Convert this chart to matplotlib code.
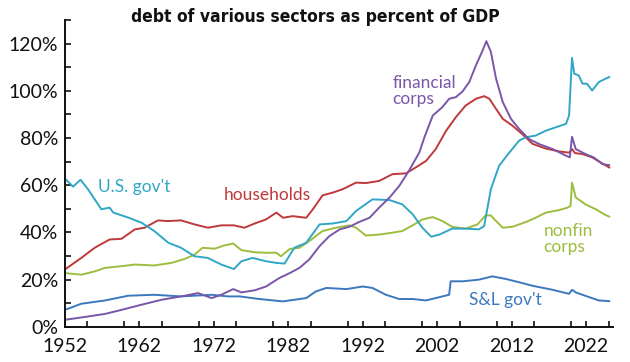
import matplotlib
matplotlib.use("Agg")
import matplotlib.pyplot as plt
from matplotlib.ticker import MultipleLocator, FixedLocator, FuncFormatter

# ---- data ----
usgov_years = [1952, 1953.1, 1954.1, 1955.1, 1956.9, 1958, 1958.5, 1960.5, 1962.3, 1964, 1965.9, 1967.6,
               1969.4, 1971.2, 1973, 1974.7, 1975.7, 1977.2, 1979, 1980.4, 1981.5, 1982.8, 1984.4, 1986.2,
               1988, 1989.8, 1991.1, 1993.3, 1995.6, 1997.3, 1998.7, 2000, 2001.2, 2002.3, 2004, 2005.8,
               2007.6, 2008.3, 2009.2, 2010.3, 2011.7, 2013, 2013.9, 2015.2, 2016.6, 2017.9, 2019.3,
               2019.7, 2020.1, 2020.4, 2021, 2021.5, 2022.1, 2022.8, 2023.7, 2024.6, 2025.1]
usgov = [62.8, 59.4, 62.3, 58.3, 49.8, 50.5, 48.4, 46.3, 44.1, 40.6, 35.6, 33.5,
         29.9, 29.2, 26.4, 24.5, 27.8, 29.2, 27.8, 27.1, 26.8, 33.5, 35.6, 43.4,
         43.8, 44.8, 49.1, 54.0, 53.7, 51.9, 47.7, 42.0, 38.2, 39.1, 41.6, 41.6,
         41.3, 42.7, 58.3, 68.2, 73.9, 78.9, 80.3, 81.0, 83.1, 84.5, 86.0,
         89.5, 113.9, 107.2, 106.5, 103.0, 103.0, 100.1, 103.7, 105.1, 105.8]

hh_years = [1952, 1954.2, 1956, 1958, 1959.6, 1961.4, 1962.7, 1964.5, 1965.8, 1967.6, 1969.4, 1971.2,
            1973, 1974.7, 1976.1, 1977.5, 1979, 1980.4, 1981.3, 1982.6, 1984.4, 1985.3, 1986.6, 1988,
            1989.3, 1991.1, 1992.4, 1994.2, 1996, 1997.8, 1999.1, 2000.5, 2001.8, 2003.2, 2004.5,
            2005.8, 2007.2, 2008.3, 2009, 2009.9, 2010.8, 2012.1, 2013.4, 2014.8, 2016.6, 2018.4,
            2019.7, 2020.1, 2020.5, 2021.5, 2022.8, 2023.9, 2025.1]
hh = [24.3, 29.2, 33.5, 37.0, 37.3, 41.3, 42.0, 45.1, 44.8, 45.1, 43.4, 42.0,
      43.0, 43.0, 42.0, 43.8, 45.5, 48.4, 46.2, 46.9, 46.2, 49.8, 55.7, 56.9,
      58.3, 61.1, 60.9, 61.8, 64.7, 65.0, 67.5, 70.3, 75.3, 83.1, 88.8,
      93.7, 96.6, 97.7, 96.6, 92.3, 88.1, 85.2, 81.7, 77.5, 75.5, 74.3,
      73.8, 75.3, 73.6, 73.2, 71.8, 69.7, 67.5]

fin_years = [1952, 1955.1, 1957.4, 1959.6, 1962.3, 1965, 1967.6, 1969.9, 1971.7, 1973, 1974.6, 1975.7,
             1977.5, 1979, 1980.8, 1982.2, 1983.5, 1984.8, 1986.2, 1987.5, 1988.9, 1990.2, 1991.5,
             1992.9, 1994.2, 1995.6, 1996.9, 1998.2, 1999.6, 2000.3, 2001.4, 2002.7, 2003.6, 2004.5,
             2005.4, 2006.3, 2007.2, 2008.1, 2008.6, 2009.2, 2009.9, 2010.8, 2011.9, 2013, 2014.3,
             2015.7, 2017.5, 2019.3, 2019.8, 2020.1, 2020.6, 2021.9, 2023, 2024.2, 2025.1]
fin = [3.0, 4.4, 5.5, 7.2, 9.4, 11.5, 12.9, 14.3, 12.2, 13.6, 16.0, 14.6,
       15.5, 17.1, 20.7, 22.8, 25.0, 28.5, 34.2, 38.4, 41.3, 42.4, 44.4,
       46.2, 50.5, 54.8, 59.7, 66.1, 73.9, 80.5, 89.5, 93.1, 96.6, 97.3,
       99.7, 103.7, 110.8, 117.1, 121.0, 116.5, 105.1, 95.2, 88.1, 83.8, 79.6,
       77.4, 75.3, 72.5, 71.8, 80.5, 75.3, 73.2, 71.8, 68.9, 68.5]

nf_years = [1952, 1954.2, 1956, 1957.4, 1959.6, 1961.4, 1964, 1966.3, 1968.1, 1969.4, 1970.5, 1972.1,
            1973.4, 1974.6, 1975.7, 1977.5, 1979, 1980.4, 1981, 1982.2, 1983.5, 1984.8, 1986.6, 1988.4,
            1990.2, 1991.1, 1992.4, 1994.2, 1996, 1997.3, 1998.7, 2000, 2001.4, 2002.7, 2004, 2005.8,
            2007.4, 2008.5, 2009.2, 2009.9, 2010.8, 2012.1, 2013.9, 2015.2, 2016.6, 2018.4, 2019.5,
            2019.9, 2020.1, 2020.6, 2021.9, 2023.3, 2024.4, 2025.1]
nf = [22.8, 22.1, 23.5, 25.0, 25.7, 26.4, 26.0, 27.1, 28.8, 30.6, 33.5, 33.1,
      34.5, 35.3, 32.5, 31.6, 31.4, 31.4, 29.9, 33.0, 33.5, 36.3, 40.6, 42.0,
      43.0, 42.0, 38.7, 39.1, 39.9, 40.6, 43.0, 45.5, 46.5, 44.8, 42.4, 41.6,
      43.4, 47.2, 47.2, 44.8, 42.0, 42.4, 44.4, 46.2, 48.4, 49.5, 50.5,
      51.2, 61.1, 54.8, 51.9, 49.8, 47.7, 46.7]

sl_years = [1952, 1954.2, 1957.4, 1960.5, 1964, 1967.6, 1971.7, 1973.9, 1975.5, 1978.1, 1981.3, 1984.4,
            1985.7, 1987.1, 1989.8, 1992, 1993.3, 1995.1, 1996.9, 1998.7, 2000.5, 2002.3, 2003.6,
            2003.8, 2005.4, 2007.6, 2009.4, 2011.2, 2013, 2014.8, 2017.5, 2019.7, 2020.1, 2020.6,
            2022.4, 2023.7, 2025.1]
sl = [7.2, 9.8, 11.2, 13.2, 13.6, 12.9, 13.6, 12.9, 12.9, 11.8, 10.8, 12.2,
      15.0, 16.5, 16.0, 17.1, 16.5, 13.6, 11.8, 11.8, 11.2, 12.6, 13.6,
      19.3, 19.3, 20.0, 21.4, 20.3, 18.9, 17.4, 15.7, 14.0, 15.7, 14.6,
      12.6, 11.2, 10.9]

x_tick_labels = [1952, 1962, 1972, 1982, 1992, 2002, 2012, 2022]
y_tick_labels = [0, 20, 40, 60, 80, 100, 120]
title = "debt of various sectors as percent of GDP"

# ---- styling ----
C_US = "#30a7c6"
C_HH = "#c0393a"
C_FIN = "#7a56a8"
C_NF = "#9dbd3f"
C_SL = "#3b78bf"

FONT = ["Lato", "DejaVu Sans"]

fig = plt.figure(figsize=(6.3, 3.62), dpi=100)
ax = fig.add_axes([0.103, 0.097, 0.870, 0.848])

lw = 1.4
ax.plot(sl_years, sl, color=C_SL, lw=lw)
ax.plot(nf_years, nf, color=C_NF, lw=lw)
ax.plot(hh_years, hh, color=C_HH, lw=lw)
ax.plot(usgov_years, usgov, color=C_US, lw=lw)
ax.plot(fin_years, fin, color=C_FIN, lw=lw)

ax.set_xlim(1952, 2025.6)
ax.set_ylim(0, 130)

for s in ["top", "right"]:
    ax.spines[s].set_visible(False)
for s in ["left", "bottom"]:
    ax.spines[s].set_linewidth(1.4)
    ax.spines[s].set_color("#111111")

ax.xaxis.set_major_locator(FixedLocator(x_tick_labels))
ax.xaxis.set_minor_locator(MultipleLocator(5))
ax.yaxis.set_major_locator(FixedLocator(y_tick_labels))
ax.yaxis.set_minor_locator(MultipleLocator(10))
ax.yaxis.set_major_formatter(FuncFormatter(lambda v, p: f"{int(v)}%"))
ax.tick_params(which="both", direction="in", length=4, width=1.2, color="#111111")
ax.tick_params(axis="x", which="major", pad=8)
ax.tick_params(axis="y", which="major", pad=5)
for lab in ax.get_xticklabels() + ax.get_yticklabels():
    lab.set_fontfamily(FONT)
    lab.set_fontsize(14)
    lab.set_color("#111111")

fig.text(0.50, 0.953, title, ha="center", va="center", fontsize=12.5, fontweight="bold",
         fontstretch="condensed", family=["DejaVu Sans"], color="#111111")

lab_kw = dict(fontsize=12.5, family=FONT)
ax.text(1956.4, 59.1, "U.S. gov't", color=C_US, va="center", ha="left", **lab_kw)
ax.text(1973.3, 55.7, "households", color=C_HH, va="center", ha="left", **lab_kw)
ax.text(1996.0, 99.8, "financial\ncorps", color=C_FIN, va="center", ha="left",
        linespacing=1.0, **lab_kw)
ax.text(2016.3, 37.2, "nonfin\ncorps", color=C_NF, va="center", ha="left",
        linespacing=1.0, **lab_kw)
ax.text(2006.3, 11.5, "S&L gov't", color=C_SL, va="center", ha="left", **lab_kw)

fig.savefig("out.png", dpi=100)
